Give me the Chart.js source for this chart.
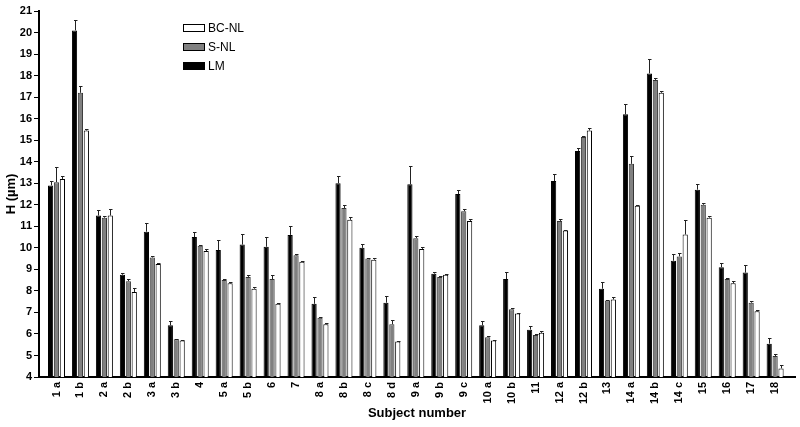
<!DOCTYPE html>
<html>
<head>
<meta charset="utf-8">
<script src="https://cdn.jsdelivr.net/npm/chart.js@4.4.0/dist/chart.umd.min.js"></script>
<style>
  html, body { margin: 0; padding: 0; background: #fff; }
  #wrap { width: 800px; height: 427px; }
</style>
</head>
<body>
<div id="wrap"><canvas id="chart"></canvas></div>
<script>
const subjects = ['1 a', '1 b', '2 a', '2 b', '3 a', '3 b', '4', '5 a', '5 b', '6', '7', '8 a', '8 b', '8 c', '8 d',
  '9 a', '9 b', '9 c', '10 a', '10 b', '11', '12 a', '12 b', '13', '14 a', '14 b', '14 c', '15', '16', '17', '18'];

const lm     = [12.9, 20.1, 11.5, 8.75, 10.75, 6.4, 10.5, 9.9, 10.15, 10.05, 10.6, 7.4, 13.0, 10.0, 7.45,
  12.95, 8.8, 12.5, 6.4, 8.55, 6.2, 13.1, 14.5, 8.1, 16.2, 18.1, 9.4, 12.7, 9.1, 8.85, 5.55];
const lmErr  = [0.2, 0.5, 0.25, 0.1, 0.4, 0.2, 0.25, 0.45, 0.5, 0.45, 0.4, 0.3, 0.35, 0.2, 0.3,
  0.85, 0.1, 0.2, 0.2, 0.35, 0.15, 0.35, 0.15, 0.3, 0.5, 0.65, 0.3, 0.25, 0.2, 0.35, 0.25];

const snl    = [13.05, 17.2, 11.4, 8.45, 9.55, 5.75, 10.1, 8.5, 8.65, 8.55, 9.65, 6.75, 11.85, 9.5, 6.45,
  10.45, 8.65, 11.7, 5.85, 7.15, 5.95, 11.25, 15.15, 7.55, 13.9, 17.8, 9.6, 12.0, 8.55, 7.45, 4.97];
const snlErr = [0.7, 0.3, 0.1, 0.1, 0.05, 0.03, 0.03, 0.03, 0.1, 0.2, 0.05, 0.05, 0.15, 0.03, 0.2,
  0.1, 0.05, 0.1, 0.05, 0.05, 0.03, 0.1, 0.05, 0.03, 0.35, 0.1, 0.17, 0.1, 0.05, 0.1, 0.12];

const bcnl   = [13.2, 15.45, 11.5, 7.95, 9.25, 5.7, 9.85, 8.35, 8.1, 7.4, 9.35, 6.45, 11.3, 9.45, 5.65,
  9.95, 8.75, 11.25, 5.7, 6.95, 6.05, 10.8, 15.45, 7.6, 11.95, 17.2, 10.62, 11.4, 8.35, 7.05, 4.4];
const bcnlErr= [0.15, 0.05, 0.3, 0.2, 0.05, 0.03, 0.1, 0.05, 0.1, 0.05, 0.05, 0.05, 0.15, 0.1, 0.03,
  0.1, 0.05, 0.1, 0.03, 0.03, 0.1, 0.05, 0.1, 0.1, 0.05, 0.1, 0.65, 0.1, 0.1, 0.05, 0.15];

const yTicks = [4, 5, 6, 7, 8, 9, 10, 11, 12, 13, 14, 15, 16, 17, 18, 19, 20, 21];

const FONT = "'Liberation Sans', Arial, sans-serif";
const toPoints = arr => arr.map((v, i) => ({ x: i, y: v }));

// upward-only error whiskers with a small cap
const errorBars = {
  id: 'errorBars',
  afterDatasetsDraw(chart) {
    const ctx = chart.ctx, yScale = chart.scales.y;
    ctx.save();
    ctx.strokeStyle = '#222';
    ctx.lineWidth = 1;
    chart.data.datasets.forEach((ds, di) => {
      chart.getDatasetMeta(di).data.forEach((bar, i) => {
        const top = Math.round(yScale.getPixelForValue(ds.data[i].y + ds.err[i]));
        const x = Math.round(bar.x) + 0.5;
        ctx.beginPath();
        ctx.moveTo(x, bar.y);
        ctx.lineTo(x, top);
        ctx.moveTo(x - 1.5, top + 0.5);
        ctx.lineTo(x + 2, top + 0.5);
        ctx.stroke();
      });
    });
    ctx.restore();
  }
};

// legend inside the plot, BC-NL on top
const boxLegend = {
  id: 'boxLegend',
  afterDraw(chart) {
    const ctx = chart.ctx;
    const items = [2, 1, 0];
    ctx.save();
    ctx.font = '12px ' + FONT;
    ctx.textBaseline = 'middle';
    ctx.textAlign = 'left';
    items.forEach((di, k) => {
      const ds = chart.data.datasets[di];
      const y = 24 + k * 19;
      ctx.fillStyle = ds.backgroundColor;
      ctx.fillRect(183, y, 22, 8);
      ctx.strokeStyle = '#000';
      ctx.lineWidth = 1;
      ctx.strokeRect(183.5, y + 0.5, 21, 7);
      ctx.fillStyle = '#000';
      ctx.fillText(ds.label, 208, y + 4.5);
    });
    ctx.restore();
  }
};

const barStyle = { borderWidth: 1, categoryPercentage: 0.74, barPercentage: 0.88 };

new Chart(document.getElementById('chart'), {
  type: 'bar',
  data: {
    datasets: [
      { label: 'LM', data: toPoints(lm), err: lmErr, backgroundColor: '#000', borderColor: '#000', ...barStyle },
      { label: 'S-NL', data: toPoints(snl), err: snlErr, backgroundColor: '#808080', borderColor: '#333', ...barStyle },
      { label: 'BC-NL', data: toPoints(bcnl), err: bcnlErr, backgroundColor: '#fff', borderColor: '#000', ...barStyle }
    ]
  },
  options: {
    responsive: true, maintainAspectRatio: false, animation: false,
    layout: { padding: { top: 11, right: 5, left: 0, bottom: 0 } },
    plugins: { legend: { display: false }, tooltip: { enabled: false } },
    scales: {
      x: {
        type: 'linear', min: -0.73, max: 30.83, offset: false,
        afterBuildTicks: axis => { axis.ticks = subjects.map((s, i) => ({ value: i })); },
        afterFit: axis => { axis.height = 50; },
        grid: { display: false, drawTicks: false, offset: false },
        border: { display: true, color: '#000', width: 2 },
        ticks: {
          color: '#000', font: { family: FONT, size: 11, weight: 'bold' },
          minRotation: 90, maxRotation: 90, autoSkip: false, padding: 5,
          callback: v => subjects[v] ?? ''
        },
        title: { display: true, text: 'Subject number', color: '#000',
          font: { family: FONT, size: 13, weight: 'bold' }, padding: { top: 0, bottom: 6 } }
      },
      y: {
        min: 4, max: 21,
        afterBuildTicks: axis => { axis.ticks = yTicks.map(v => ({ value: v })); },
        afterFit: axis => { axis.width = 39; },
        grid: { drawOnChartArea: false, color: '#000', tickLength: 5, lineWidth: 1 },
        border: { display: true, color: '#000', width: 2 },
        ticks: { color: '#000', font: { family: FONT, size: 11, weight: 'bold' }, padding: 2 },
        title: { display: true, text: 'H (µm)', color: '#000',
          font: { family: FONT, size: 13, weight: 'bold' }, padding: { top: 4, bottom: 0 } }
      }
    }
  },
  plugins: [errorBars, boxLegend]
});
</script>
</body>
</html>
